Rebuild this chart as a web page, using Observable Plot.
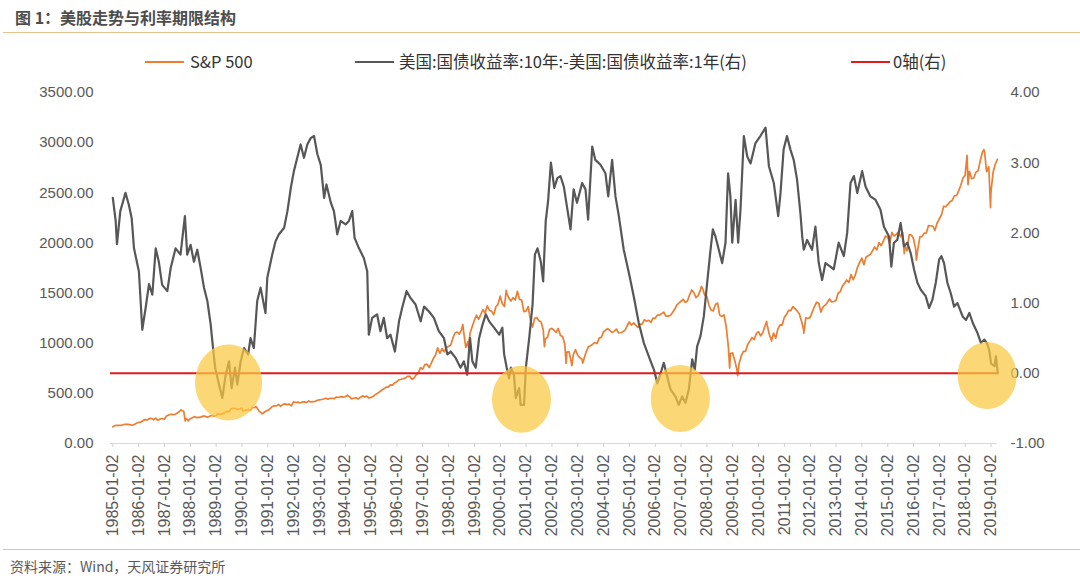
<!DOCTYPE html>
<html><head><meta charset="utf-8">
<script src="https://cdn.jsdelivr.net/npm/d3@7"></script>
<script src="https://cdn.jsdelivr.net/npm/@observablehq/plot@0.6"></script>
<style>
body{margin:0;background:#fff;width:1080px;height:584px;overflow:hidden;font-family:"Noto Sans CJK SC","Noto Sans",sans-serif;}
#head{position:relative;height:78px;}
#foot{position:relative;height:41px;}
.abs{position:absolute;white-space:nowrap;}
.rule{left:3px;right:0;height:0;border-top:1.5px solid #e6c28f;}
#title{left:15px;top:7px;font-weight:bold;font-size:16px;line-height:20px;color:#4d4d4d;}
.lg-line{height:2px;width:39px;}
.lg-text{font-size:16.5px;line-height:20px;color:#333;top:51px;}
#caption{left:10px;top:13px;font-size:14px;line-height:20px;color:#595959;}
#chart svg{display:block;}
</style></head><body>
<div id="head">
  <div class="abs" id="title">图 1：美股走势与利率期限结构</div>
  <div class="abs rule" style="top:32px"></div>
</div>
<div id="chart"></div>
<div id="foot">
  <div class="abs rule" style="top:6px"></div>
  <div class="abs" id="caption">资料来源：Wind，天风证券研究所</div>
</div>
<script>
// ---------- data ----------
const legendLabels = ["S&P 500", "美国:国债收益率:10年:-美国:国债收益率:1年(右)", "0轴(右)"];

// S&P 500 month-end closes, Jan 1985 .. Mar 2019
const sp500Monthly = [
179.6,181.2,180.7,179.8,189.6,191.9,190.9,188.6,182.1,189.8,202.2,211.3,
211.8,226.9,238.9,235.5,247.4,250.8,236.1,252.9,231.3,244.0,249.2,242.2,
274.1,284.2,291.7,288.4,290.1,304.0,318.7,329.8,321.8,251.8,230.3,247.1,
257.1,267.8,258.9,261.3,262.2,273.5,272.0,261.5,271.9,279.0,273.7,277.7,
297.5,288.9,294.9,309.6,320.5,318.0,346.1,351.5,349.2,340.4,346.0,353.4,
329.1,331.9,339.9,330.8,361.2,358.0,356.2,322.6,306.1,304.0,322.2,330.2,
343.9,367.1,375.2,375.3,389.8,371.2,387.8,395.4,387.9,392.5,375.2,417.1,
408.8,412.7,403.7,415.0,415.4,408.1,424.2,414.0,417.8,418.7,431.4,435.7,
438.8,443.4,451.7,440.2,450.2,450.5,448.1,463.6,458.9,467.8,461.8,466.5,
481.6,467.1,445.8,450.9,456.5,444.3,458.3,475.5,462.7,472.4,453.7,459.3,
470.4,487.4,500.7,514.7,533.4,544.8,562.1,561.9,584.4,581.5,605.4,615.9,
636.0,640.4,645.5,654.2,669.1,670.6,640.0,652.0,687.3,705.3,757.0,740.7,
786.2,790.8,757.1,801.3,848.3,885.1,954.3,899.5,947.3,914.6,955.4,970.4,
980.3,1049.3,1101.8,1111.8,1090.8,1133.8,1120.7,957.3,1017.0,1098.7,1163.6,1229.2,
1279.6,1238.3,1286.4,1335.2,1301.8,1372.7,1328.7,1320.4,1282.7,1362.9,1388.9,1469.3,
1394.5,1366.4,1498.6,1452.4,1420.6,1454.6,1430.8,1517.7,1436.5,1429.4,1315.0,1320.3,
1366.0,1239.9,1160.3,1249.5,1255.8,1224.4,1211.2,1133.6,1040.9,1059.8,1139.5,1148.1,
1130.2,1106.7,1147.4,1076.9,1067.1,989.8,911.6,916.1,815.3,885.8,936.3,879.8,
855.7,841.2,848.2,916.9,963.6,974.5,990.3,1008.0,996.0,1050.7,1058.2,1111.9,
1131.1,1144.9,1126.2,1107.3,1120.7,1140.8,1101.7,1104.2,1114.6,1130.2,1173.8,1211.9,
1181.3,1203.6,1180.6,1156.9,1191.5,1191.3,1234.2,1220.3,1228.8,1207.0,1249.5,1248.3,
1280.1,1280.7,1294.8,1310.6,1270.1,1270.2,1276.7,1303.8,1335.9,1377.9,1400.6,1418.3,
1438.2,1406.8,1420.9,1482.4,1530.6,1503.4,1455.3,1474.0,1526.8,1549.4,1481.1,1468.4,
1378.6,1330.6,1322.7,1385.6,1400.4,1280.0,1267.4,1282.8,1166.4,968.8,896.2,903.3,
825.9,735.1,797.9,872.8,919.1,919.3,987.5,1020.6,1057.1,1036.2,1095.6,1115.1,
1073.9,1104.5,1169.4,1186.7,1089.4,1030.7,1101.6,1049.3,1141.2,1183.3,1180.6,1257.6,
1286.1,1327.2,1325.8,1363.6,1345.2,1320.6,1292.3,1218.9,1131.4,1253.3,1247.0,1257.6,
1312.4,1365.7,1408.5,1397.9,1310.3,1362.2,1379.3,1406.6,1440.7,1412.2,1416.2,1426.2,
1498.1,1514.7,1569.2,1597.6,1630.7,1606.3,1685.7,1633.0,1681.6,1756.5,1805.8,1848.4,
1782.6,1859.5,1872.3,1884.0,1923.6,1960.2,1930.7,2003.4,1972.3,2018.1,2067.6,2058.9,
1995.0,2104.5,2067.9,2085.5,2107.4,2063.1,2103.8,1972.2,1920.0,2079.4,2080.4,2043.9,
1940.2,1932.2,2059.7,2065.3,2097.0,2098.9,2173.6,2171.0,2168.3,2126.2,2198.8,2238.8,
2278.9,2363.6,2362.7,2384.2,2411.8,2423.4,2470.3,2471.7,2519.4,2575.3,2647.6,2673.6,
2823.8,2713.8,2640.9,2648.1,2705.3,2718.4,2816.3,2901.5,2914.0,2711.7,2760.2,2506.9,
2704.1,2784.5,2834.4];
// intra-month highs / lows of the S&P 500 (decimal year, value)
const sp500ExtraYears  = [1985.00,1987.64,1987.80,1987.92,1990.04,1990.54,1990.78,1998.55,1998.77,2000.23,2001.71,2002.55,2002.77,2003.19,2007.78,2008.88,2009.19,2010.31,2010.50,2011.75,2015.64,2016.11,2018.07,2018.11,2018.72,2018.98];
const sp500ExtraValues = [165.4,336.8,224.8,223.9,323.0,369.0,295.5,1186.8,959.4,1527.5,965.8,797.7,776.8,800.7,1565.2,752.4,676.5,1217.3,1022.6,1099.2,1893.2,1829.1,2872.9,2581.0,2930.8,2351.1];

// 10Y minus 1Y Treasury yield spread (decimal year, %)
const spreadYears = [
1985.00,1985.11,1985.16,1985.29,1985.49,1985.62,1985.73,1985.82,1986.01,1986.14,1986.27,1986.40,1986.53,1986.66,1986.78,1986.91,
1987.11,1987.24,1987.43,1987.62,1987.79,1987.88,1988.01,1988.14,1988.27,1988.40,1988.53,1988.66,1988.79,1988.88,1988.96,
1989.11,1989.24,1989.37,1989.50,1989.60,1989.73,1989.82,1989.95,1990.08,1990.24,1990.33,1990.46,1990.59,1990.72,1990.91,1990.98,
1991.17,1991.30,1991.43,1991.63,1991.76,1991.89,1992.01,1992.14,1992.27,1992.40,1992.53,1992.66,1992.79,1992.92,
1993.05,1993.18,1993.27,1993.44,1993.56,1993.69,1993.82,1994.01,1994.14,1994.27,1994.36,1994.53,1994.72,1994.85,1994.91,
1995.04,1995.23,1995.36,1995.49,1995.62,1995.75,1995.92,1996.08,1996.20,1996.37,1996.53,1996.72,1996.92,
1997.05,1997.24,1997.43,1997.62,1997.82,1997.95,1998.08,1998.27,1998.46,1998.59,1998.72,1998.83,1998.92,
1999.05,1999.18,1999.31,1999.44,1999.57,1999.76,1999.96,2000.08,2000.15,2000.25,2000.34,2000.41,2000.53,2000.60,2000.73,2000.79,2000.92,2000.99,
2001.12,2001.25,2001.34,2001.44,2001.57,2001.66,2001.76,2001.85,2001.96,2002.09,2002.21,2002.33,2002.46,2002.72,2002.84,2002.97,
2003.17,2003.30,2003.40,2003.56,2003.68,2003.88,2004.07,2004.18,2004.33,2004.46,2004.59,2004.78,2004.98,
2005.17,2005.36,2005.56,2005.75,2005.95,2006.08,2006.21,2006.33,2006.46,2006.59,2006.78,2006.91,
2007.04,2007.17,2007.30,2007.43,2007.53,2007.62,2007.75,2007.88,2008.01,2008.14,2008.23,2008.33,2008.46,2008.59,2008.72,2008.82,2008.91,2008.98,
2009.11,2009.21,2009.30,2009.43,2009.56,2009.69,2009.88,2010.07,2010.27,2010.40,2010.59,2010.76,2010.85,2010.97,
2011.10,2011.23,2011.36,2011.49,2011.62,2011.69,2011.75,2011.88,2012.07,2012.20,2012.33,2012.46,2012.59,2012.78,2012.91,
2013.10,2013.30,2013.43,2013.56,2013.69,2013.82,2014.01,2014.14,2014.33,2014.53,2014.72,2014.85,
2015.05,2015.14,2015.24,2015.37,2015.50,2015.63,2015.76,2015.89,2016.02,2016.15,2016.28,2016.47,2016.60,2016.73,2016.86,2016.99,
2017.08,2017.18,2017.31,2017.44,2017.57,2017.70,2017.90,2018.03,2018.16,2018.29,2018.48,2018.61,2018.74,2018.84,2018.93,
2019.00,2019.13,2019.19,2019.26];
const spreadValues = [
2.50,2.17,1.84,2.31,2.57,2.40,2.21,1.78,1.45,0.62,0.93,1.27,1.12,1.78,1.59,1.26,
1.17,1.50,1.78,1.69,2.24,1.69,1.83,1.59,1.76,1.50,1.22,1.03,0.69,0.36,0.08,
-0.16,-0.35,-0.02,0.17,-0.21,0.08,-0.16,0.17,0.36,0.27,0.50,0.36,1.03,1.22,0.86,1.36,
1.69,1.88,1.98,2.07,2.31,2.64,2.88,3.07,3.26,3.07,3.26,3.35,3.38,3.12,
2.97,2.50,2.69,2.43,2.31,1.98,2.17,2.12,2.17,2.31,1.93,1.78,1.64,1.45,0.55,
0.79,0.84,0.60,0.79,0.50,0.55,0.31,0.74,0.93,1.17,1.07,0.98,0.74,
0.95,0.88,0.79,0.60,0.50,0.27,0.31,0.22,0.08,0.17,-0.02,0.50,0.17,
0.08,0.50,0.69,0.84,0.74,0.65,0.55,0.65,0.27,0.08,-0.07,0.08,-0.02,-0.35,-0.21,-0.45,-0.45,0.08,
0.50,0.98,1.69,1.78,1.59,1.31,2.17,2.45,3.00,2.64,2.78,2.81,2.66,2.05,2.62,2.43,
2.71,2.62,2.19,3.23,3.04,2.97,2.85,2.52,3.04,2.52,2.24,1.76,1.43,
1.09,0.72,0.43,0.24,0.05,-0.14,0.00,0.15,-0.04,-0.23,-0.33,-0.45,
-0.33,-0.42,-0.23,0.20,0.05,0.38,0.53,0.81,1.29,1.76,2.05,1.95,1.76,1.57,1.86,2.85,2.52,1.86,
2.47,1.86,2.33,3.38,3.09,2.99,3.28,3.38,3.50,2.95,2.71,2.24,2.57,3.19,
3.38,3.19,3.04,2.76,2.28,1.95,1.76,1.90,1.76,2.09,1.57,1.33,1.57,1.52,1.48,
1.86,1.67,2.00,2.71,2.81,2.57,2.88,2.66,2.52,2.47,2.33,2.09,
1.95,1.52,1.86,1.90,2.14,1.81,1.86,1.71,1.48,1.29,1.19,1.10,0.93,1.05,1.29,1.62,
1.67,1.57,1.29,1.14,0.95,1.00,0.81,0.76,0.86,0.72,0.57,0.43,0.48,0.43,0.33,
0.14,0.10,0.24,0.00];

const zeroAxis = [0];
const leftTicks = [0, 500, 1000, 1500, 2000, 2500, 3000, 3500];
const rightTicks = [-1, 0, 1, 2, 3, 4];
const yearTicks = d3.range(1985, 2020);
// highlighted inversion periods (decimal year, spread)
const highlightYears = [1989.48, 2000.82, 2006.97, 2018.85];
const highlightSpread = [-0.13, -0.37, -0.36, -0.03];

// ---------- build ----------
const colors = ["#ed7d31", "#575757", "#e31a1c"];
const toLeft = s => (s + 1) * 700;       // right axis [-1,4] onto left axis [0,3500]
const fromLeft = v => v / 700 - 1;

const sp = sp500Monthly.map((v, i) => ({x: 1985 + (i + 1) / 12 - 0.004, y: v}))
  .concat(sp500ExtraYears.map((x, i) => ({x, y: sp500ExtraValues[i]})))
  .sort((a, b) => a.x - b.x);
const spread = spreadYears.map((x, i) => ({x, y: toLeft(spreadValues[i])}));
const highlights = highlightYears.map((x, i) => ({x, y: toLeft(highlightSpread[i]), i}));

const ellipse = {draw(ctx, size) {
  const ry = Math.sqrt(size / Math.PI), rx = ry * 0.88, k = 0.5523;
  ctx.moveTo(rx, 0);
  ctx.bezierCurveTo(rx, k * ry, k * rx, ry, 0, ry);
  ctx.bezierCurveTo(-k * rx, ry, -rx, k * ry, -rx, 0);
  ctx.bezierCurveTo(-rx, -k * ry, -k * rx, -ry, 0, -ry);
  ctx.bezierCurveTo(k * rx, -ry, rx, -k * ry, rx, 0);
  ctx.closePath();
}};

const chart = Plot.plot({
  width: 1080, height: 465,
  marginLeft: 110, marginRight: 83, marginTop: 14, marginBottom: 100,
  x: {type: "linear", domain: [1984.91, 2019.25]},
  y: {domain: [0, 3500]},
  style: {fontFamily: "'Liberation Sans', Arial, sans-serif", fontSize: "15px", color: "#595959", background: "#fff", overflow: "visible"},
  marks: [
    Plot.ruleY([0], {stroke: "#d9d9d9", strokeWidth: 1.2}),
    Plot.axisX({ticks: yearTicks, tickFormat: d => `${d}-01-02`, tickRotate: -90, tickSize: 4, tickPadding: 7,
                stroke: "#d0d0d0", fill: "#595959", fontSize: 16, label: null}),
    Plot.axisY({anchor: "left", ticks: leftTicks, tickFormat: d => d.toFixed(2), tickSize: 0, tickPadding: 17, label: null}),
    Plot.axisY({anchor: "right", ticks: rightTicks.map(toLeft), tickFormat: d => fromLeft(d).toFixed(2), tickSize: 0, tickPadding: 13, label: null}),
    Plot.line(sp, {x: "x", y: "y", stroke: colors[0], strokeWidth: 1.7, strokeLinejoin: "round"}),
    Plot.line(spread, {x: "x", y: "y", stroke: colors[1], strokeWidth: 2.2, strokeLinejoin: "round"}),
    Plot.ruleY(zeroAxis, {y: toLeft, stroke: colors[2], strokeWidth: 2}),
    Plot.dot(highlights, {x: "x", y: "y", filter: d => d.i === 0, r: 38, symbol: ellipse, fill: "#f9c940", fillOpacity: 0.72, stroke: "none"}),
    Plot.dot(highlights, {x: "x", y: "y", filter: d => d.i > 0, r: 33.5, symbol: ellipse, fill: "#f9c940", fillOpacity: 0.72, stroke: "none"})
  ]
});
document.getElementById("chart").appendChild(chart);

// legend
const head = document.getElementById("head");
const lgLineX = [145, 355, 851], lgTextX = [190, 399, 893];
legendLabels.forEach((t, i) => {
  const ln = document.createElement("div");
  ln.className = "abs lg-line";
  ln.style.left = lgLineX[i] + "px"; ln.style.top = "61px"; ln.style.background = colors[i];
  head.appendChild(ln);
  const tx = document.createElement("div");
  tx.className = "abs lg-text";
  tx.style.left = lgTextX[i] + "px";
  tx.textContent = t;
  head.appendChild(tx);
});
</script>
</body></html>
